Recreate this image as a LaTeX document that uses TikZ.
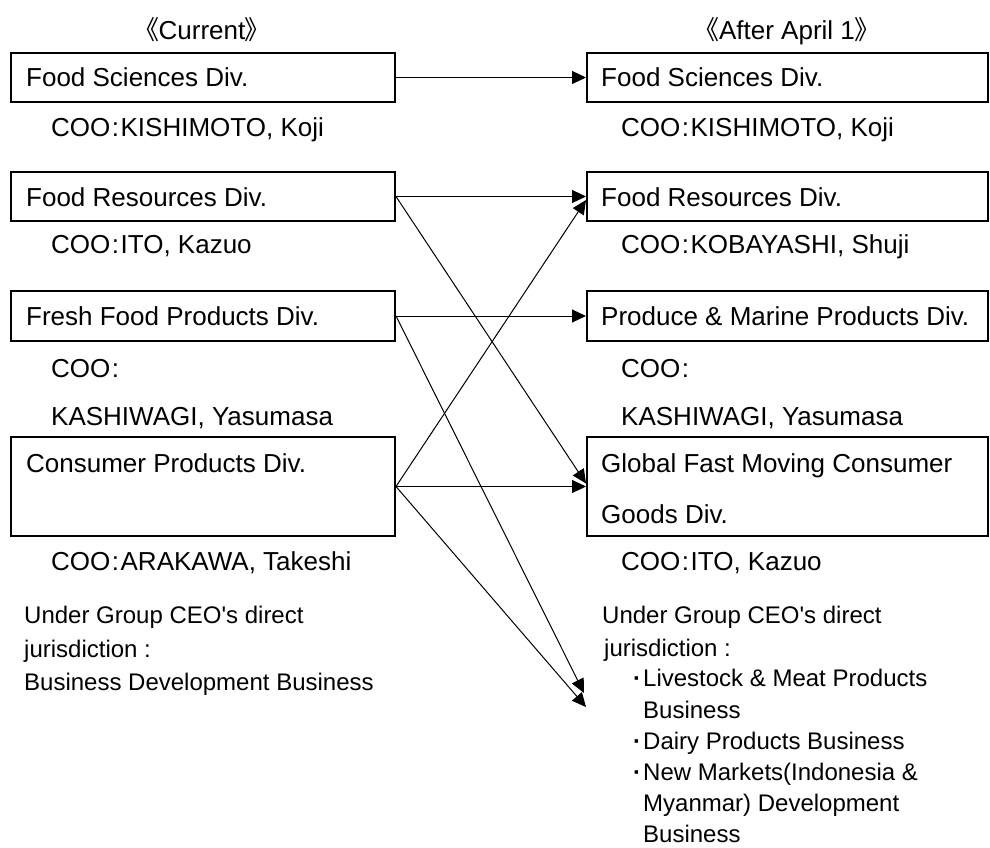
\documentclass[tikz,border=0pt]{standalone}
\usepackage{fontspec}
\newfontfamily\arialf{Liberation Sans}
\newfontfamily\cjkf[RawFeature=+palt]{Noto Sans CJK JP}
\usetikzlibrary{arrows.meta,calc}
\newcommand{\coo}{COO\hspace{1.5pt}:\hspace{1.5pt}}
\newcommand{\bul}{\makebox[12pt][c]{\bfseries ·}}
\tikzset{
  box/.style={draw=black, line width=2pt, inner sep=0pt},
  big/.style={font=\arialf\fontsize{26}{30}\selectfont, anchor=base west, inner sep=0pt},
  sml/.style={font=\arialf\fontsize{24}{28}\selectfont, anchor=base west, inner sep=0pt},
  hdr/.style={font=\arialf\fontsize{26}{30}\selectfont, anchor=base, inner sep=0pt},
  arr/.style={draw=black, line width=1pt, -{Triangle[length=14pt,width=13pt]}}
}
\begin{document}
\begin{tikzpicture}[x=1pt,y=-1pt]
\useasboundingbox (0,0) rectangle (990,848);
% headers
\node[hdr] (hc) at (202,40) {{\cjkf《}Current{\cjkf》}};
\node[hdr] (ha) at (787,40) {{\cjkf《}After April 1{\cjkf》}};
% left boxes
\node[box, minimum width=384pt, minimum height=49pt] (L1) at (203,77.5) {};
\node[box, minimum width=384pt, minimum height=49pt] (L2) at (203,196.5) {};
\node[box, minimum width=384pt, minimum height=50pt] (L3) at (203,316) {};
\node[box, minimum width=384pt, minimum height=99pt] (L4) at (203,486.5) {};
% right boxes
\node[box, minimum width=401pt, minimum height=49pt] (R1) at (787.5,77.5) {};
\node[box, minimum width=401pt, minimum height=49pt] (R2) at (787.5,196.5) {};
\node[box, minimum width=401pt, minimum height=50pt] (R3) at (787.5,316) {};
\node[box, minimum width=401pt, minimum height=99pt] (R4) at (787.5,486.5) {};
% left texts
\node[big] (l1t) at (26,87) {Food Sciences Div.};
\node[big] (l1c) at (51,136) {\coo KISHIMOTO, Koji};
\node[big] (l2t) at (26,206) {Food Resources Div.};
\node[big] (l2c) at (51,253) {\coo ITO, Kazuo};
\node[big] (l3t) at (26,325) {Fresh Food Products Div.};
\node[big] (l3c) at (51,377) {\coo};
\node[big] (l3n) at (51,425) {KASHIWAGI, Yasumasa};
\node[big] (l4t) at (26,472) {Consumer Products Div.};
\node[big] (l4c) at (51,570) {\coo ARAKAWA, Takeshi};
\node[sml] (lu1) at (24,623) {Under Group CEO's direct};
\node[sml] (lu2) at (24,657) {jurisdiction :};
\node[sml] (lu3) at (24,690) {Business Development Business};
% right texts
\node[big] (r1t) at (601,87) {Food Sciences Div.};
\node[big] (r1c) at (621,136) {\coo KISHIMOTO, Koji};
\node[big] (r2t) at (601,206) {Food Resources Div.};
\node[big] (r2c) at (621,253) {\coo KOBAYASHI, Shuji};
\node[big] (r3t) at (601,325) {Produce \& Marine Products Div.};
\node[big] (r3c) at (621,377) {\coo};
\node[big] (r3n) at (621,425) {KASHIWAGI, Yasumasa};
\node[big] (r4t) at (601,472) {Global Fast Moving Consumer};
\node[big] (r4u) at (601,523) {Goods Div.};
\node[big] (r4c) at (621,570) {\coo ITO, Kazuo};
\node[sml] (ru1) at (602,623) {Under Group CEO's direct};
\node[sml] (ru2) at (604,656) {jurisdiction :};
\node[sml] (ru3) at (631,686) {\bul Livestock \& Meat Products};
\node[sml] (ru4) at (643,718) {Business};
\node[sml] (ru5) at (631,749) {\bul Dairy Products Business};
\node[sml] (ru6) at (631,780) {\bul New Markets(Indonesia \&};
\node[sml] (ru7) at (643,811) {Myanmar) Development};
\node[sml] (ru8) at (643,842) {Business};
% free ends
\coordinate (e1) at (584,693);
\coordinate (e2) at (586,707);
% arrows
\draw[arr] (L1.east) -- (R1.west);
\draw[arr] (L2.east) -- (R2.west);
\draw[arr] (L2.east) -- ($(R4.north west)!0.47!(R4.south west)$);
\draw[arr] (L3.east) -- (R3.west);
\draw[arr] (L3.east) -- (e1);
\draw[arr] (L4.east) -- ($(R2.north west)!0.57!(R2.south west)$);
\draw[arr] (L4.east) -- (R4.west);
\draw[arr] (L4.east) -- (e2);
\end{tikzpicture}
\end{document}
